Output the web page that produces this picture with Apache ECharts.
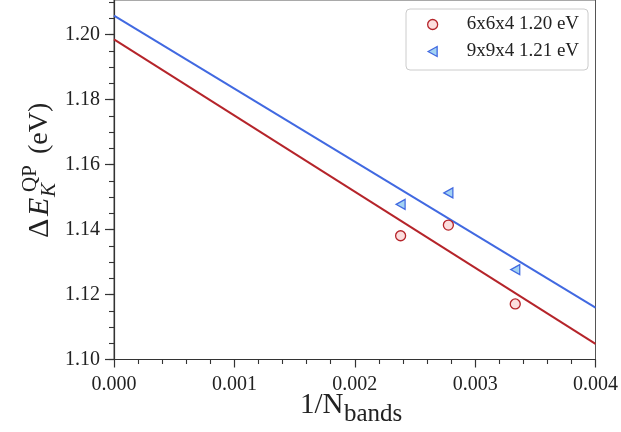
<!DOCTYPE html>
<html>
<head>
<meta charset="utf-8">
<script src="https://cdn.jsdelivr.net/npm/echarts@6/dist/echarts.min.js"></script>
<style>
  html, body { margin: 0; padding: 0; background: #ffffff; }
  #chart { width: 621px; height: 432px; }
</style>
</head>
<body>
<div id="chart"></div>
<script>
// Number of bands used in each GW calculation (x = 1/N)
const nBands = [420, 360, 300];
// Quasiparticle gap at K for each k-mesh (eV)
const gap6x6x4 = [1.1381, 1.1414, 1.1171];
const gap9x9x4 = [1.1478, 1.1513, 1.1277];
// Legend labels (extrapolated gaps)
const seriesNames = ['6x6x4 1.20 eV', '9x9x4 1.21 eV'];
// Axis ticks
const xTicks = [0.000, 0.001, 0.002, 0.003, 0.004];
const yTicks = [1.10, 1.12, 1.14, 1.16, 1.18, 1.20];
const xRange = [0, 0.004];
const yRange = [1.10, 1.2107];

const invN = nBands.map(n => 1 / n);

// least-squares straight line through the points, evaluated at the x-range ends
function fitLine(xs, ys) {
  const n = xs.length;
  const mx = xs.reduce((a, b) => a + b, 0) / n;
  const my = ys.reduce((a, b) => a + b, 0) / n;
  let sxy = 0, sxx = 0;
  for (let i = 0; i < n; i++) {
    sxy += (xs[i] - mx) * (ys[i] - my);
    sxx += (xs[i] - mx) * (xs[i] - mx);
  }
  const slope = sxy / sxx;
  const icpt = my - slope * mx;
  return xRange.map(x => [x, icpt + slope * x]);
}

const pts6 = invN.map((x, i) => [x, gap6x6x4[i]]);
const pts9 = invN.map((x, i) => [x, gap9x9x4[i]]);

// minor tick positions on the y axis
const yMinor = [];
for (let k = 0; yRange[0] + k * 0.005 <= yRange[1] + 1e-9; k++) {
  yMinor.push(+(yRange[0] + k * 0.005).toFixed(3));
}

const RED = '#b5242a', RED_FILL = '#fcdede';
const BLUE = '#4169e1', BLUE_FILL = '#a3d3f3';
const TRI = 'path://M0,5 L9,0 L9,10 Z';
const FONT = '"Liberation Serif", "DejaVu Serif", serif';
const INK = '#222222';

const chart = echarts.init(document.getElementById('chart'), null, { renderer: 'canvas' });

chart.setOption({
  backgroundColor: '#ffffff',
  animation: false,
  grid: {
    left: 114, right: 23, top: 0, bottom: 72.5,
    show: true, borderColor: '#555555', borderWidth: 1
  },
  xAxis: {
    type: 'value',
    min: xRange[0], max: xRange[1], interval: 0.001,
    axisLine: { lineStyle: { color: '#333333', width: 1.2 } },
    axisTick: { show: true, inside: false, length: 8, customValues: xTicks, lineStyle: { color: '#333333', width: 1.2 } },
    minorTick: { show: true, splitNumber: 5, length: 4.5, lineStyle: { color: '#333333', width: 1.1 } },
    splitLine: { show: false },
    minorSplitLine: { show: false },
    axisLabel: {
      margin: 15, color: INK, fontFamily: FONT, fontSize: 20,
      formatter: v => v.toFixed(3)
    }
  },
  yAxis: [
    {
      type: 'value', position: 'left',
      min: yRange[0], max: yRange[1],
      axisLine: { show: true, lineStyle: { color: '#333333', width: 1.2 } },
      axisTick: { show: true, inside: false, length: 9, customValues: yTicks, lineStyle: { color: '#333333', width: 1.2 } },
      splitLine: { show: false },
      axisLabel: {
        margin: 14, color: INK, fontFamily: FONT, fontSize: 20,
        customValues: yTicks,
        formatter: v => v.toFixed(2)
      }
    },
    {
      type: 'value', position: 'left',
      min: yRange[0], max: yRange[1],
      axisLine: { show: false },
      axisTick: { show: true, inside: false, length: 5, customValues: yMinor, lineStyle: { color: '#333333', width: 1.1 } },
      splitLine: { show: false },
      axisLabel: { show: false }
    }
  ],
  legend: {
    orient: 'vertical',
    left: 406, top: 9,
    padding: [6, 9, 9, 21],
    itemWidth: 10, itemHeight: 10, itemGap: 8,
    backgroundColor: '#ffffff',
    borderColor: '#cccccc', borderWidth: 1, borderRadius: 4,
    textStyle: { fontFamily: FONT, fontSize: 19, color: INK, padding: [0, 0, 0, 24] },
    data: [
      { name: seriesNames[0], icon: 'circle', itemStyle: { color: RED_FILL, borderColor: RED, borderWidth: 1.3 } },
      { name: seriesNames[1], icon: TRI, itemStyle: { color: BLUE_FILL, borderColor: BLUE, borderWidth: 1.3 } }
    ]
  },
  series: [
    {
      name: seriesNames[0] + ' fit', type: 'line', data: fitLine(invN, gap6x6x4),
      showSymbol: false, lineStyle: { color: RED, width: 2 }, z: 2, silent: true
    },
    {
      name: seriesNames[1] + ' fit', type: 'line', data: fitLine(invN, gap9x9x4),
      showSymbol: false, lineStyle: { color: BLUE, width: 2 }, z: 2, silent: true
    },
    {
      name: seriesNames[0], type: 'scatter', data: pts6,
      symbol: 'circle', symbolSize: 10,
      itemStyle: { color: RED_FILL, borderColor: RED, borderWidth: 1.3, opacity: 1 }, z: 3
    },
    {
      name: seriesNames[1], type: 'scatter', data: pts9,
      symbol: TRI, symbolSize: [9, 10],
      itemStyle: { color: BLUE_FILL, borderColor: BLUE, borderWidth: 1.3, opacity: 1 }, z: 3
    }
  ],
  graphic: [
    // x-axis title: 1/N_bands
    {
      type: 'group', x: 0, y: 0, silent: true,
      children: [
        { type: 'text', x: 300, y: 405, style: { text: '1/N', font: '29px "Liberation Serif"', fill: INK, verticalAlign: 'middle', align: 'left' } },
        { type: 'text', x: 344, y: 414, style: { text: 'bands', font: '25px "Liberation Serif"', fill: INK, verticalAlign: 'middle', align: 'left' } }
      ]
    },
    // y-axis title: ΔE_K^QP (eV), rotated to read bottom-to-top
    {
      type: 'group', x: 40, y: 238, rotation: Math.PI / 2, silent: true,
      children: [
        { type: 'text', x: 0, y: 0, style: { text: 'Δ', font: '30px "Liberation Serif"', fill: INK, verticalAlign: 'middle', align: 'left' } },
        { type: 'text', x: 22, y: 0, style: { text: 'E', font: 'italic 30px "Liberation Serif"', fill: INK, verticalAlign: 'middle', align: 'left' } },
        { type: 'text', x: 41, y: 9, style: { text: 'K', font: 'italic 21px "Liberation Serif"', fill: INK, verticalAlign: 'middle', align: 'left' } },
        { type: 'text', x: 46, y: -10, style: { text: 'QP', font: '21px "Liberation Serif"', fill: INK, verticalAlign: 'middle', align: 'left' } },
        { type: 'text', x: 84, y: 0, style: { text: '(eV)', font: '28px "Liberation Serif"', fill: INK, verticalAlign: 'middle', align: 'left' } }
      ]
    }
  ]
});
</script>
</body>
</html>
